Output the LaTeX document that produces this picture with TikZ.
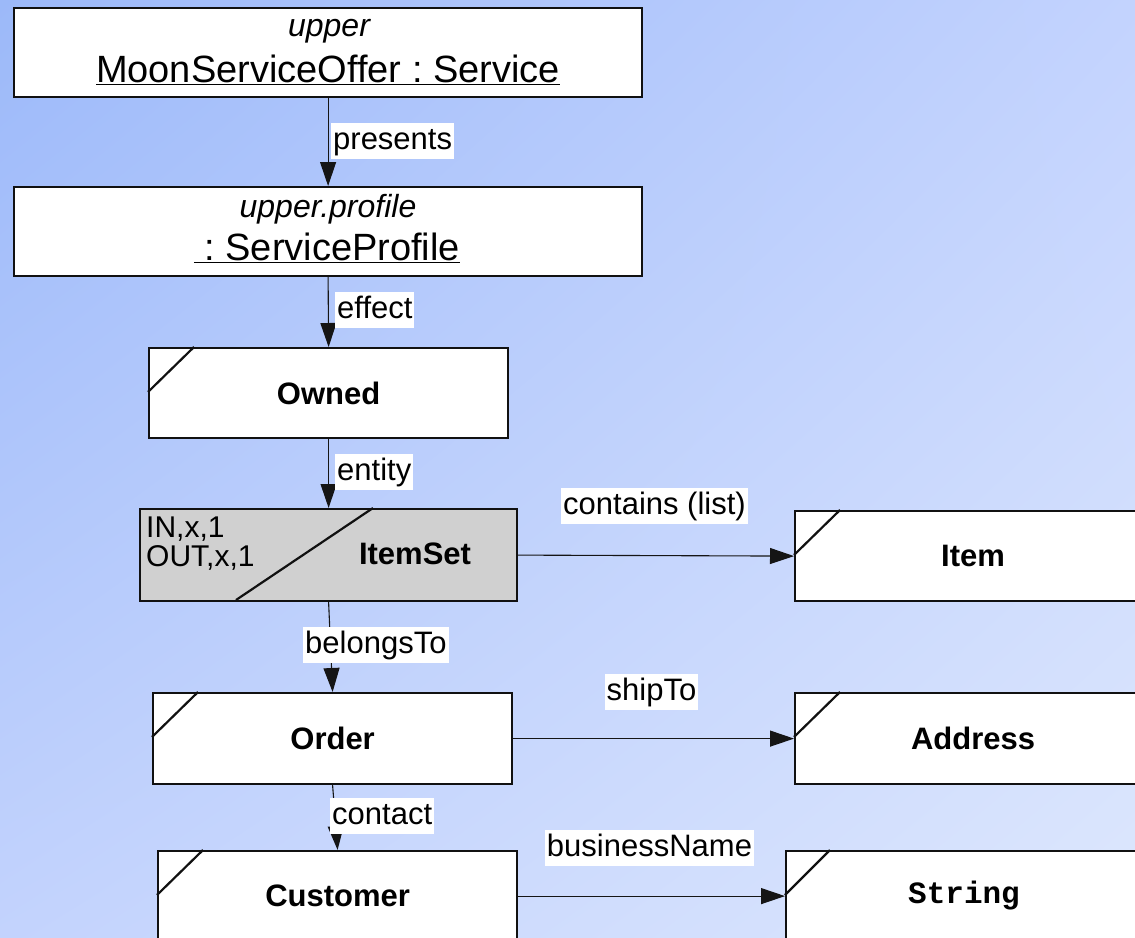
\documentclass[tikz,border=0pt]{standalone}
\usepackage{fontspec}
\setmainfont{Liberation Sans}
\setmonofont{Liberation Mono}
\usetikzlibrary{arrows.meta,shadings}
\definecolor{bgUL}{HTML}{9CB9F9}
\definecolor{bgUR}{HTML}{C3D3FE}
\definecolor{bgLL}{HTML}{C3D3FD}
\definecolor{bgLR}{HTML}{DDE7FD}
\definecolor{setgray}{HTML}{D0D0D0}
\definecolor{edge}{HTML}{111111}
\definecolor{conn}{HTML}{151515}
\frenchspacing
\tikzset{
  objbox/.style={draw=edge, line width=2.2pt, fill=white, anchor=north west, inner sep=0pt},
  cornercut/.style={draw=edge, line width=2.2pt},
  boldtxt/.style={font=\fontsize{31}{36}\selectfont\bfseries, inner sep=0pt},
  lbl/.style={fill=white, inner xsep=2pt, inner ysep=1.5pt, text height=25pt, text depth=8pt,
              font=\fontsize{31}{36}\selectfont},
  conn/.style={draw=conn, line width=1.1pt, -{Triangle[length=24pt,width=16pt]}},
}
\begin{document}
\begin{tikzpicture}[x=1pt,y=-1pt]
\useasboundingbox (0,0) rectangle (1135,937);
\clip (0,0) rectangle (1135,937);
\shade[upper left=bgUL, upper right=bgUR, lower left=bgLL, lower right=bgLR] (0,0) rectangle (1135,937);

% top object
\node[objbox, minimum width=628pt, minimum height=89pt] (svc) at (13,7) {};
\node[anchor=base, inner sep=0pt, font=\fontsize{32}{36}\selectfont\itshape] (svcS) at (329,36) {upper};
\node[anchor=base, inner sep=0pt, font=\fontsize{38}{44}\selectfont] (svcN) at (328,82) {\underline{MoonServiceOffer : Service}};

% profile
\node[objbox, minimum width=628pt, minimum height=89pt] (prof) at (13,186) {};
\node[anchor=base, inner sep=0pt, font=\fontsize{32}{36}\selectfont\itshape] (profS) at (328,217) {upper.profile};
\node[anchor=base, inner sep=0pt, font=\fontsize{38}{44}\selectfont] (profN) at (327,260) {\underline{\ : ServiceProfile}};

% Owned
\node[objbox, minimum width=359pt, minimum height=90pt] (owned) at (148,347) {};
\node[boldtxt] (ownedT) at (owned.center) {Owned};
\draw[cornercut] ([xshift=46pt]owned.north west) -- ([yshift=-45pt]owned.north west);

% ItemSet
\node[objbox, fill=setgray, minimum width=377pt, minimum height=92pt] (iset) at (139,508) {};
\draw[cornercut] (236,600) -- (373,508);
\node[anchor=base west, inner sep=0pt, font=\fontsize{30}{34}\selectfont] (isetIn) at (146,537) {IN,x,1};
\node[anchor=base west, inner sep=0pt, font=\fontsize{30}{34}\selectfont] (isetOut) at (146,566) {OUT,x,1};
\node[boldtxt] (isetT) at (415,554) {ItemSet};

% Item
\node[objbox, minimum width=356pt, minimum height=90pt] (item) at (794,510) {};
\node[boldtxt] (itemT) at (item.center) {Item};
\draw[cornercut] ([xshift=46pt]item.north west) -- ([yshift=-45pt]item.north west);

% Order
\node[objbox, minimum width=359pt, minimum height=91pt] (order) at (152,692) {};
\node[boldtxt] (orderT) at (order.center) {Order};
\draw[cornercut] ([xshift=46pt]order.north west) -- ([yshift=-45pt]order.north west);

% Address
\node[objbox, minimum width=356pt, minimum height=91pt] (addr) at (794,692) {};
\node[boldtxt] (addrT) at (addr.center) {Address};
\draw[cornercut] ([xshift=46pt]addr.north west) -- ([yshift=-45pt]addr.north west);

% Customer
\node[objbox, minimum width=359pt, minimum height=90pt] (cust) at (157,850) {};
\node[boldtxt] (custT) at (cust.center) {Customer};
\draw[cornercut] ([xshift=46pt]cust.north west) -- ([yshift=-45pt]cust.north west);

% String
\node[objbox, minimum width=358pt, minimum height=90pt] (str) at (785,850) {};
\node[inner sep=0pt, font=\fontsize{31}{36}\ttfamily\bfseries] (strT) at (964,896) {String};
\draw[cornercut] ([xshift=45pt]str.north west) -- ([yshift=-45pt]str.north west);

% connectors
\draw[conn] (svc.south) -- (prof.north);
\draw[conn] (prof.south) -- (owned.north);
\draw[conn] (owned.south) -- (iset.north);
\draw[conn] (iset.south) -- (order.north);
\draw[conn] (order.south) -- (cust.north);
\draw[conn] (iset.east) -- (item.west);
\draw[conn] (order.east) -- (addr.west);
\draw[conn] (cust.east) -- (str.west);

% labels
\node[lbl, anchor=west] (lPres) at (331,141) {presents};
\node[lbl, anchor=west] (lEff) at (335,310) {effect};
\node[lbl, anchor=west] (lEnt) at (335,472) {entity};
\node[lbl, anchor=west] (lBel) at (303,645) {belongsTo};
\node[lbl, anchor=west] (lCon) at (330,816) {contact};
\node[lbl] (lCont) at (654.5,505.5) {contains (list)};
\node[lbl] (lShip) at (651.5,691.5) {shipTo};
\node[lbl] (lBus) at (649.5,847.5) {businessName};
\end{tikzpicture}
\end{document}
